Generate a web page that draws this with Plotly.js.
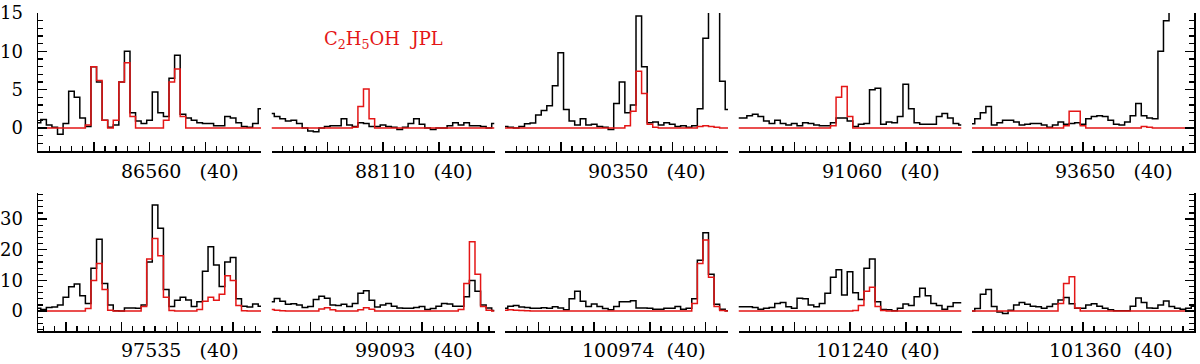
<!DOCTYPE html>
<html>
<head>
<meta charset="utf-8">
<script src="https://cdn.plot.ly/plotly-3.0.1.min.js"></script>
<style>
  body { margin: 0; background: #fff; }
  #chart { width: 1200px; height: 364px; }
</style>
</head>
<body>
<div id="chart"></div>
<script>
// centre frequencies (MHz) of each window, 40 MHz wide, 1 MHz channels
var centers = [86560, 88110, 90350, 91060, 93650, 97535, 99093, 100974, 101240, 101360];
var spanMHz = 40;
var chanMHz = 1;

// observed spectra (black)
var obs1 = [0.7,1.1,0.4,0.1,-0.8,0.6,4.8,4.0,1.3,0.2,8.0,6.0,1.0,0.1,0.4,6.0,10.0,2.0,0.9,0.6,1.0,4.7,2.0,1.5,6.5,9.5,1.8,1.3,1.0,0.7,0.6,0.6,0.3,0.3,1.5,1.3,0.7,0.2,0.1,0.6,2.5];
var obs2 = [1.9,1.5,1.2,0.9,1.0,0.6,0.0,-0.4,-0.5,0.0,0.2,0.3,0.3,1.2,0.4,0.2,0.7,0.6,0.2,0.2,0.4,0.2,0.1,-0.2,0.1,0.6,1.2,0.5,0.0,-0.2,0.0,0.0,0.3,0.7,0.4,0.7,0.3,0.3,0.2,0.0,0.6];
var obs3 = [0.2,0.1,0.0,0.2,0.55,0.65,1.7,2.3,2.9,5.5,9.8,2.4,0.9,0.4,1.2,0.4,0.5,0.2,0.1,-0.2,3.2,6.0,2.0,3.0,14.6,8.0,0.7,0.8,0.4,0.7,0.5,0.2,0.3,0.1,0.3,2.5,11.7,40,40,6.1,2.4];
var obs4 = [1.3,1.3,1.6,1.8,1.5,0.9,0.6,1.0,0.6,0.4,0.6,0.3,0.7,0.6,0.4,0.3,0.3,0.7,1.3,1.3,0.9,0.2,0.5,0.6,5.0,5.2,0.5,0.8,0.7,1.5,5.7,2.5,0.7,0.5,0.5,0.5,1.5,1.9,1.3,0.6,0.4];
var obs5 = [0.55,1.2,2.0,2.8,0.4,0.7,1.0,1.0,0.8,0.4,0.5,0.6,0.6,0.4,0.1,0.4,0.8,0.5,0.6,0.7,0.5,1.2,1.5,1.6,1.5,1.0,0.5,0.4,0.8,1.6,3.2,1.6,1.3,1.2,10.0,14.0,40,40,40,40,40];
var obs6 = [0.9,0.5,1.2,1.3,2.0,4.5,7.9,8.8,5.0,2.5,14.0,23.4,9.0,2.0,0.1,0.0,1.0,1.0,0.9,2.0,16.0,34.6,27.0,7.0,1.5,3.5,4.5,3.6,1.5,3.0,13.0,21.0,15.0,8.0,16.0,17.5,4.0,1.6,1.3,2.3,1.6];
var obs7 = [3.0,4.1,3.2,2.2,2.4,2.0,1.2,1.5,3.8,4.8,4.2,2.0,1.8,2.2,1.5,2.5,5.8,6.6,3.5,1.3,2.0,2.5,1.6,1.0,0.9,0.9,1.2,1.5,0.5,0.8,1.6,2.5,2.3,1.6,1.6,4.7,10.0,6.5,2.0,1.0,0.2];
var obs8 = [0.9,1.6,1.8,1.3,1.2,0.9,0.9,1.1,0.9,1.4,1.0,0.4,4.0,6.5,3.2,1.5,2.3,1.5,0.8,0.4,1.5,3.0,3.0,3.4,1.0,1.0,0.9,0.6,0.6,0.9,0.9,1.5,0.6,0.9,4.0,16.6,25.5,12.0,2.2,0.6,0.1];
var obs9 = [1.4,1.4,1.4,1.2,0.6,0.9,1.2,2.5,2.8,1.4,0.9,4.2,4.0,2.0,1.4,2.5,5.8,11.0,13.5,5.2,12.8,6.0,3.8,14.0,17.0,3.0,0.5,0.4,0.1,0.9,2.3,1.8,4.7,7.4,5.0,2.5,1.8,0.6,1.5,2.7,2.7];
var obs10 = [0.0,0.8,5.5,7.0,1.5,-0.3,-0.8,0.3,2.0,2.8,2.2,1.6,1.4,0.9,1.5,2.3,3.6,4.4,2.4,0.9,0.9,2.0,2.4,1.6,0.9,0.4,0.1,0.1,0.1,1.6,4.3,2.8,1.0,0.9,2.0,3.3,1.5,0.9,0.6,0.9,1.6];

// C2H5OH model (red)
var mod1 = [0,0,0,0,0,0,0,0,0,0.4,8.0,6.2,1.0,0,1.0,6.0,8.5,1.5,0,0,0,0,0,1.0,6.0,7.7,1.5,0,0,0,0,0,0,0,0,0,0,0,0,0,0];
var mod2 = [0,0,0,0,0,0,0,0,0,0,0,0,0,0,0,0.1,2.8,5.1,1.2,0,0,0,0,0,0,0,0,0,0,0,0,0,0,0,0,0,0,0,0,0,0];
var mod3 = [0,0,0,0,0,0,0,0,0,0,0,0,0,0,0,0,0,0,0,0,0,0,0.3,2.2,7.4,4.5,0.5,0.1,0,0,0,0,0,0,0,0.2,0.3,0.2,0.1,0,0];
var mod4 = [0,0,0,0,0,0,0,0,0,0,0,0,0,0,0,0,0,0.3,4.0,5.4,1.5,0,0,0,0,0,0,0,0,0,0,0,0,0,0,0,0,0,0,0,0];
var mod5 = [0,0,0,0,0,0,0,0,0,0,0,0,0,0,0,0,0,0.3,2.2,2.2,0.3,0,0,0,0,0,0,0,0,0,0,0.2,0.1,0,0,0,0,0,0,0,0];
var mod6 = [0,0,0,0,0,0,0,0,0,0.8,10.0,15.5,7.0,0.3,0,0,0,0,0,1.5,17.0,23.7,18.0,4.5,0.2,0,0,0,0,0.5,3.2,4.5,3.5,5.5,11.5,10.0,1.8,0.1,0,0,0];
var mod7 = [0.5,0.3,0.1,0,0,0,0,0,0,0.7,1.1,0.4,0,0,0,0,0.4,1.1,0.6,0,0,0,0,0,0,0,0,0,0,0,0,0,0,0,0.5,9.0,22.6,12.0,1.5,0.3,0];
var mod8 = [0.3,0.4,0.3,0.2,0.1,0,0,0,0,0,0,0,0,0,0,0,0,0,0,0,0,0,0,0,0,0,0,0,0,0,0,0,0,0,2.5,15.5,23.2,11.0,1.5,0.2,0];
var mod9 = [0,0,0,0,0,0,0,0,0,0,0,0,0,0,0,0,0,0,0,0,0,0.2,1.8,6.5,7.8,1.5,0.2,0,0,0,0,0,0,0,0,0,0,0,0,0,0];
var mod10 = [0,0,0,0,0,0,0,0,0,0,0,0,0,0,0,0,2.5,9.0,11.2,1.0,0,0,0,0,0,0,0,0,0,0,0,0,0,0,0,0,0,0,0,0,0];

var observed = [obs1, obs2, obs3, obs4, obs5, obs6, obs7, obs8, obs9, obs10];
var model = [mod1, mod2, mod3, mod4, mod5, mod6, mod7, mod8, mod9, mod10];

var serif = 'DejaVu Serif, serif';
var red = 'rgb(228,22,22)';

var plotL = 38, plotW = 1156;
function px(p) { return (p - plotL) / plotW; }

var data = [];
var layout = {
  width: 1200, height: 364,
  margin: {l: 38, r: 6, t: 13, b: 33},
  paper_bgcolor: '#fff', plot_bgcolor: '#fff',
  showlegend: false,
  font: {family: serif, size: 18, color: '#000'},
  annotations: []
};

for (var k = 0; k < 10; k++) {
  var row = k < 5 ? 0 : 1;
  var col = k % 5;
  var c = centers[k];
  var freq = observed[k].map(function (v, j) { return c - spanMHz / 2 + j * chanMHz; });
  var xa = 'x' + (k + 1), ya = 'y' + (k + 1);

  data.push({x: freq, y: observed[k], xaxis: xa, yaxis: ya, mode: 'lines',
    line: {shape: 'hvh', color: '#000', width: 1.5}, hoverinfo: 'skip'});
  data.push({x: freq, y: model[k], xaxis: xa, yaxis: ya, mode: 'lines',
    line: {shape: 'hvh', color: red, width: 1.5}, hoverinfo: 'skip'});

  var left = 38 + col * 233.5;
  var right = left + 223;
  layout['xaxis' + (k + 1)] = {
    domain: [px(left), px(right)],
    anchor: ya,
    range: [c - spanMHz / 2, c + spanMHz / 2],
    showline: true, linecolor: '#000', linewidth: 1.5,
    ticks: 'inside', tick0: 0, dtick: 10, ticklen: 9, tickwidth: 1.5, tickcolor: '#000',
    minor: {ticks: 'inside', dtick: 2, ticklen: 5, tickwidth: 1.2, tickcolor: '#000', showgrid: false},
    showticklabels: false, showgrid: false, zeroline: false, fixedrange: true
  };

  var yr = row === 0 ? [-3, 15] : [-6.5, 38.5];
  var yaxis = {
    domain: row === 0 ? [0.566, 1] : [0, 0.434],
    anchor: xa,
    range: yr,
    showgrid: false, zeroline: false, fixedrange: true,
    showline: false, ticks: '', showticklabels: false
  };
  if (col === 0 || col === 4) {
    yaxis.showline = true;
    yaxis.linecolor = '#000';
    yaxis.linewidth = 1.5;
    yaxis.ticks = 'inside';
    yaxis.tick0 = 0;
    yaxis.dtick = row === 0 ? 5 : 10;
    yaxis.ticklen = 9;
    yaxis.tickwidth = 1.5;
    yaxis.tickcolor = '#000';
    yaxis.minor = {ticks: 'inside', dtick: row === 0 ? 1 : 2, ticklen: 5, tickwidth: 1.2, tickcolor: '#000', showgrid: false};
    if (col === 0) {
      yaxis.showticklabels = true;
      yaxis.tickfont = {family: serif, size: 18, color: '#000'};
      yaxis.ticklabelstandoff = 10;
    } else {
      yaxis.side = 'right';
    }
  }
  layout['yaxis' + (k + 1)] = yaxis;

  layout.annotations.push({
    xref: 'paper', yref: 'paper',
    x: px(right - 20), xanchor: 'right',
    y: row === 0 ? 0.503 : -0.06, yanchor: 'middle',
    text: String(c).padEnd(8, '\u00a0') + '(40)',
    showarrow: false,
    font: {family: serif, size: 19, color: '#000'}
  });
}

layout.annotations.push({
  xref: 'paper', yref: 'paper',
  x: px(383), xanchor: 'center',
  y: 0.915, yanchor: 'middle',
  text: 'C<sub>2</sub>H<sub>5</sub>OH\u00a0\u00a0JPL',
  showarrow: false,
  font: {family: serif, size: 18, color: red}
});

Plotly.newPlot('chart', data, layout, {staticPlot: true});
</script>
</body>
</html>
